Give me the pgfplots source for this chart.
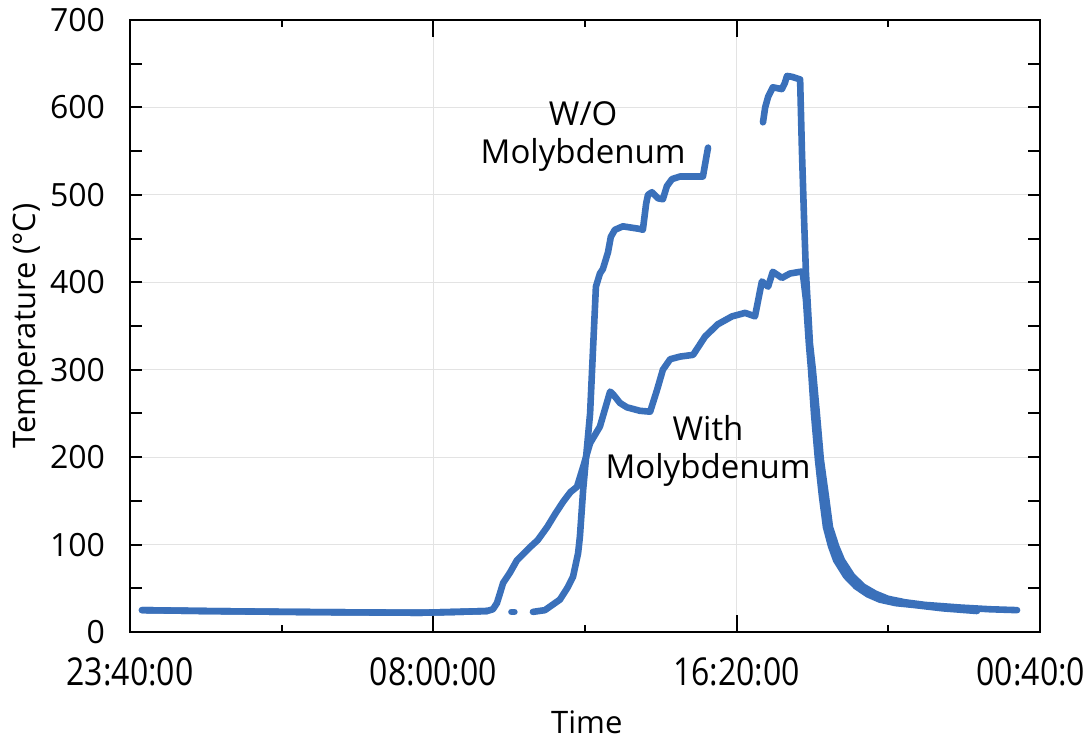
\documentclass[border=0pt]{standalone}
\usepackage{pgfplots}
\pgfplotsset{compat=1.18}
\usepackage{fontspec}
\setmainfont{Open Sans}
\definecolor{lineblue}{RGB}{58,112,186}
\begin{document}
\begin{tikzpicture}
\useasboundingbox (-65pt,-53pt) rectangle (477pt,316pt);
\begin{axis}[
  scale only axis, width=455pt, height=306pt,
  xmin=0, xmax=25, ymin=0, ymax=700,
  axis line style={line width=1pt},
  xtick={0,8.33333,16.66667,25},
  xticklabels={23:40:00,08:00:00,16:20:00,00:40:00},
  minor xtick={4.16667,12.5,20.83333},
  ytick={0,100,...,700},
  ytick style={draw=none},
  extra y ticks={0,50,...,700},
  extra y tick labels={},
  extra y tick style={grid=none, major tick length=6pt, ytick style={draw=black, line width=1pt}},
  tick align=inside,
  major tick length=8.5pt, minor tick length=3.5pt,
  xtick style={line width=1pt, black},
  minor tick style={line width=1pt, black},
  xmajorgrids, ymajorgrids,
  major grid style={gray!22, line width=0.6pt},
  /pgf/number format/assume math mode=true,
  ticklabel style={font=\fontsize{16}{19}\selectfont},
  yticklabel style={xshift=-9pt},
  xticklabel style={yscale=1.2, yshift=-7pt},
  xlabel={Time}, ylabel={Temperature (°C)},
  label style={font=\fontsize{15.5}{18}\selectfont},
  xlabel style={at={(axis description cs:0.502,-0.147)}, anchor=center},
  ylabel style={at={(axis description cs:-0.112,0.5)}, anchor=center},
  clip=false,
]
% With Molybdenum
\addplot[lineblue, line width=3.3pt, line join=round, line cap=round] coordinates {
(0.33,25)(2.0,24)(4.31,23)(6.0,22.5)(7.97,22)(9.0,23)(9.81,24)(9.97,26)(10.08,33)(10.17,45)(10.25,56)(10.44,68)(10.63,82)(10.99,97)(11.2,105)(11.46,120)(11.68,135)(11.90,149)(12.1,160)(12.28,166)(12.45,189)(12.64,216)(12.91,235)(13.05,255)(13.19,275)(13.27,272)(13.46,262)(13.65,257)(14.01,253)(14.29,252)(14.48,277)(14.64,300)(14.84,312)(15.11,315)(15.47,317)(15.80,338)(16.15,352)(16.54,361)(16.90,365)(17.17,361)(17.36,401)(17.53,395)(17.66,412)(17.91,405)(18.13,410)(18.41,412)(18.48,412)(18.57,380)(18.65,330)(18.71,300)(18.79,250)(18.90,197)(19.01,155)(19.12,120)(19.26,98)(19.40,82)(19.67,64)(19.95,52)(20.27,43)(20.60,37)(21.04,33)(21.51,31)(22.34,27)(23.27,24)
};
% W/O Molybdenum
\addplot[lineblue, line width=3.3pt, line join=round, line cap=round] coordinates {
(0.33,25)(2.0,24)(4.31,23)(6.0,22.5)(7.97,22)(9.0,23)(9.81,24)
};
\addplot[lineblue, line width=3.3pt, line cap=round] coordinates {(10.48,23)(10.56,23)};
\addplot[lineblue, line width=3.3pt, line join=round, line cap=round] coordinates {
(11.07,23)(11.40,25)(11.81,37)(12.01,50)(12.17,63)(12.31,90)(12.36,109)(12.45,163)(12.53,200)(12.64,250)(12.72,323)(12.80,395)(12.91,410)(12.99,415)(13.13,434)(13.21,452)(13.32,460)(13.54,464)(14.01,461)(14.09,460)(14.18,490)(14.23,500)(14.34,503)(14.51,496)(14.64,495)(14.75,510)(14.89,518)(15.11,521)(15.74,521)(15.82,540)(15.88,554)
};
\addplot[lineblue, line width=3.3pt, line join=round, line cap=round] coordinates {
(17.39,583)(17.45,600)(17.53,612)(17.66,623)(17.91,621)(17.99,628)(18.05,636)(18.19,635)(18.41,632)(18.46,550)(18.52,470)(18.57,411)(18.68,330)(18.76,300)(18.87,250)(18.98,197)(19.12,155)(19.23,120)(19.40,98)(19.56,82)(19.84,64)(20.14,52)(20.47,44)(20.82,38)(21.29,34)(21.84,31)(22.80,28)(23.63,26)(24.37,25)
};
\node[align=center, font=\fontsize{16.5}{19}\selectfont] at (axis cs:12.45,567) {W/O\\Molybdenum};
\node[align=center, font=\fontsize{16.5}{19}\selectfont] at (axis cs:15.88,207) {With\\Molybdenum};
\end{axis}
\end{tikzpicture}
\end{document}
